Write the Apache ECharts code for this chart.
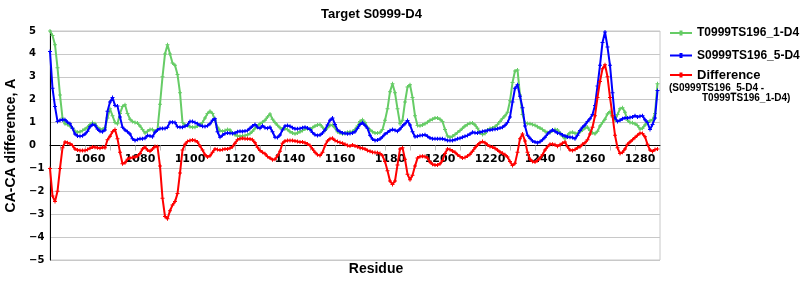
<!DOCTYPE html>
<html><head><meta charset="utf-8">
<script src="https://cdn.jsdelivr.net/npm/echarts@6/dist/echarts.min.js"></script>
<style>html,body{margin:0;padding:0;background:#fff}#c{width:800px;height:300px}</style>
</head><body><div id="c"></div>
<script>
// first residue number of the data arrays (one value per residue)
const residueStart = 1044;

// T0999TS196_1-D4 (green)
const greenT = [
 5.0,4.8,4.4,3.4,2.2,1.2,0.95,0.92,0.85,0.75,
 0.62,0.58,0.6,0.65,0.72,0.8,0.92,1.0,0.95,0.8,
 0.72,0.7,0.78,1.2,1.6,1.3,1.0,0.95,1.4,1.7,
 1.78,1.4,1.15,1.05,1.0,0.98,0.85,0.7,0.55,0.62,
 0.7,0.7,0.62,0.7,1.8,3.0,4.0,4.4,4.0,3.6,
 3.5,3.1,2.3,1.0,0.9,0.87,0.82,0.8,0.8,0.85,
 0.9,1.0,1.2,1.4,1.5,1.4,1.1,0.8,0.65,0.62,
 0.65,0.7,0.68,0.55,0.47,0.42,0.4,0.42,0.44,0.47,
 0.52,0.62,0.75,0.85,0.95,1.02,1.1,1.25,1.38,1.15,
 1.0,0.88,0.78,0.72,0.73,0.7,0.6,0.55,0.51,0.55,
 0.6,0.66,0.72,0.73,0.73,0.78,0.85,0.9,0.92,0.8,
 0.65,0.78,0.88,0.88,0.78,0.6,0.55,0.51,0.53,0.58,
 0.6,0.61,0.7,0.85,1.05,1.12,1.0,0.8,0.68,0.6,
 0.55,0.55,0.57,0.7,1.1,1.6,2.35,2.7,2.3,1.6,
 0.95,1.1,1.9,2.55,2.65,2.1,1.3,0.87,0.86,0.9,
 0.95,1.02,1.1,1.15,1.2,1.2,1.15,1.05,0.7,0.42,
 0.36,0.4,0.48,0.57,0.65,0.75,0.85,0.92,0.97,0.98,
 0.9,0.75,0.55,0.48,0.52,0.68,0.74,0.76,0.82,0.92,
 1.05,1.18,1.3,1.45,1.95,2.75,3.25,3.3,2.2,1.35,
 0.98,0.96,0.95,0.92,0.88,0.82,0.76,0.7,0.62,0.56,
 0.57,0.65,0.7,0.68,0.55,0.4,0.3,0.45,0.56,0.58,
 0.53,0.52,0.6,0.68,0.76,0.8,0.65,0.56,0.51,0.62,
 0.85,1.0,1.15,1.38,1.48,1.25,1.1,1.35,1.6,1.65,
 1.45,1.1,1.0,0.99,0.95,0.87,0.72,0.75,0.9,1.02,
 1.08,1.12,1.4,2.7
];

// S0999TS196_5-D4 (blue)
const blueS = [
 4.1,2.5,1.7,1.05,1.1,1.12,1.12,1.02,0.95,0.75,
 0.5,0.42,0.4,0.43,0.5,0.62,0.82,0.92,0.88,0.72,
 0.62,0.6,0.68,1.5,1.9,2.1,1.75,1.72,1.24,0.8,
 0.68,0.6,0.5,0.3,0.22,0.26,0.3,0.3,0.32,0.44,
 0.42,0.38,0.58,0.68,0.74,0.74,0.74,0.8,1.02,1.02,
 1.0,0.82,0.8,0.8,0.84,0.9,1.05,1.05,1.0,0.95,
 0.88,0.84,0.83,0.86,0.95,1.1,1.17,0.6,0.36,0.45,
 0.52,0.55,0.54,0.52,0.55,0.6,0.62,0.61,0.63,0.66,
 0.75,0.85,0.92,0.8,0.75,0.86,0.78,0.75,0.8,0.6,
 0.36,0.35,0.46,0.68,0.85,0.87,0.84,0.78,0.73,0.73,
 0.74,0.78,0.8,0.76,0.7,0.57,0.47,0.44,0.46,0.55,
 0.68,0.9,1.1,1.2,0.92,0.68,0.6,0.55,0.53,0.51,
 0.52,0.55,0.6,0.75,0.92,0.99,0.88,0.75,0.45,0.28,
 0.22,0.24,0.28,0.38,0.5,0.57,0.65,0.7,0.67,0.62,
 0.72,0.85,0.95,1.09,0.9,0.6,0.38,0.4,0.44,0.45,
 0.47,0.4,0.33,0.3,0.3,0.29,0.29,0.29,0.26,0.22,
 0.22,0.22,0.25,0.29,0.32,0.36,0.4,0.44,0.5,0.58,
 0.56,0.55,0.58,0.61,0.63,0.66,0.68,0.7,0.71,0.73,
 0.76,0.8,0.88,1.0,1.25,1.9,2.5,2.65,2.15,1.65,
 0.85,0.45,0.32,0.2,0.15,0.12,0.16,0.25,0.36,0.5,
 0.6,0.68,0.62,0.55,0.52,0.46,0.42,0.37,0.36,0.35,
 0.3,0.45,0.65,0.8,0.9,1.05,1.17,1.35,1.75,2.6,
 3.5,4.5,4.96,4.3,3.5,2.3,1.2,1.05,1.1,1.17,
 1.2,1.2,1.22,1.24,1.3,1.25,1.28,1.3,1.12,1.0,
 0.7,0.92,1.2,2.4
];

// Difference (S0999TS196_5-D4 - T0999TS196_1-D4) (red)
const diffSt = [
 -1.0,-2.2,-2.45,-2.0,-1.0,-0.1,0.15,0.12,0.08,0.0,
 -0.15,-0.2,-0.22,-0.22,-0.22,-0.18,-0.12,-0.07,-0.08,-0.1,
 -0.12,-0.08,-0.1,0.25,0.4,0.6,0.7,0.3,-0.3,-0.8,
 -0.75,-0.6,-0.55,-0.52,-0.5,-0.46,-0.35,-0.15,-0.07,-0.2,
 -0.25,-0.15,-0.04,-0.05,-0.9,-2.3,-3.1,-3.2,-2.85,-2.6,
 -2.45,-2.1,-1.2,-0.2,0.05,0.18,0.22,0.24,0.22,0.15,
 -0.02,-0.2,-0.4,-0.5,-0.45,-0.3,-0.15,-0.18,-0.2,-0.18,
 -0.15,-0.15,-0.12,-0.05,0.1,0.25,0.3,0.32,0.3,0.3,
 0.28,0.25,0.12,-0.08,-0.22,-0.3,-0.36,-0.48,-0.55,-0.62,
 -0.6,-0.45,-0.25,0.1,0.2,0.22,0.22,0.22,0.2,0.17,
 0.15,0.15,0.12,0.07,0.0,-0.15,-0.3,-0.4,-0.44,-0.3,
 0.0,0.2,0.3,0.32,0.22,0.17,0.13,0.1,0.05,0.0,
 -0.02,0.02,-0.02,-0.05,-0.1,-0.12,-0.15,-0.22,-0.25,-0.29,
 -0.31,-0.32,-0.35,-0.45,-0.7,-1.1,-1.55,-1.7,-1.55,-0.85,
 -0.15,-0.1,-0.6,-1.25,-1.5,-1.3,-0.9,-0.55,-0.48,-0.47,
 -0.48,-0.55,-0.72,-0.82,-0.85,-0.85,-0.8,-0.65,-0.35,-0.15,
 -0.18,-0.24,-0.3,-0.4,-0.48,-0.55,-0.52,-0.46,-0.38,-0.25,
 -0.1,0.02,0.12,0.17,0.12,0.03,-0.04,-0.07,-0.12,-0.2,
 -0.28,-0.34,-0.4,-0.5,-0.7,-0.87,-0.78,-0.3,0.3,0.5,
 0.2,-0.3,-0.6,-0.7,-0.72,-0.65,-0.55,-0.4,-0.2,-0.05,
 0.05,0.06,0.03,-0.03,0.03,0.1,0.15,-0.05,-0.2,-0.22,
 -0.18,-0.1,-0.05,0.05,0.12,0.25,0.5,0.8,1.3,2.1,
 2.8,3.35,3.53,3.0,2.1,1.3,0.45,-0.1,-0.35,-0.3,
 -0.15,0.05,0.15,0.25,0.35,0.45,0.54,0.52,0.38,0.05,
 -0.2,-0.26,-0.18,-0.15
];

// axis tick labels / tick marks
const xLabelValues = [1060,1080,1100,1120,1140,1160,1180,1200,1220,1240,1260,1280];
const xTickValues = [1048,1058,1068,1078,1088,1098,1108,1118,1128,1138,1148,1158,1168,1178,1188,1198,1208,1218,1228,1238,1248,1258,1268,1278];
const yMin = -5, yMax = 5, yStep = 1;

const names = ['T0999TS196_1-D4','S0999TS196_5-D4','Difference'];
const colors = ['#66cc66','#0000ff','#ff0000'];

function pairs(arr){ return arr.map((v,i)=>[residueStart+i, v]); }

const plus = 'path://M1.5,0H2.5V4H1.5Z M0,1.5H4V2.5H0Z';
const legendIcon = 'path://M0,6H22V8H0Z M9.5,4.5H12.5V9.5H9.5Z';
const bold = {fontFamily:'Liberation Sans, Arial, sans-serif', fontWeight:'bold', color:'#000'};
const tickFont = {fontFamily:'DejaVu Sans', fontWeight:'bold', color:'#000'};

// plot box (pixels) used to place the x axis line on the zero value
const gridTop = 31, gridBottom = 40, chartH = 300;
const plotH = chartH - gridTop - gridBottom;
const zeroOffset = -plotH * (0 - yMin) / (yMax - yMin);

const chart = echarts.init(document.getElementById('c'), null, {renderer:'canvas'});
function mkSeries(i, arr){
  return {name:names[i], type:'line', data:pairs(arr), symbol:plus, symbolSize:4,
    lineStyle:{color:colors[i], width:2}, itemStyle:{color:colors[i], borderWidth:0},
    emphasis:{disabled:true}, animation:false, z:2+i};
}
function mkLegend(i, top, fs, extra){
  return {data:[{name:names[i], icon:legendIcon}], left:670, top:top, padding:0,
    itemWidth:22, itemHeight:14, selectedMode:false,
    textStyle:Object.assign({fontSize:fs}, bold, extra||{})};
}
chart.setOption({
  animation:false,
  backgroundColor:'#fff',
  title:[
    {text:'Target S0999-D4', left:321, top:8, padding:0, textStyle:Object.assign({fontSize:13}, bold)},
    {text:'(S0999TS196_5-D4 -', left:669, top:83, padding:0, textStyle:Object.assign({fontSize:10, lineHeight:10}, bold)},
    {text:'T0999TS196_1-D4)', left:702, top:93, padding:0, textStyle:Object.assign({fontSize:10, lineHeight:10}, bold)}
  ],
  legend:[
    mkLegend(0, 27, 12),
    mkLegend(1, 49.5, 12),
    mkLegend(2, 68.5, 13, {padding:[0,0,10,0]})
  ],
  grid:{left:50, right:140, top:gridTop, bottom:gridBottom, show:true, borderColor:'#c8c8c8', borderWidth:1,
    containLabel:false, outerBoundsMode:'none'},
  xAxis:{type:'value', min:1044, max:1288, position:'bottom', offset:zeroOffset,
    axisLine:{onZero:false, lineStyle:{color:'#000', width:1}},
    axisTick:{show:true, customValues:xTickValues, length:5, lineStyle:{color:'#bbbbbb'}},
    axisLabel:{customValues:xLabelValues, margin:8, fontSize:11, ...tickFont, formatter:v=>String(v)},
    splitLine:{show:false},
    name:'Residue', nameLocation:'middle', nameGap:117,
    nameTextStyle:Object.assign({fontSize:14, padding:[0,0,0,42]}, bold)
  },
  yAxis:{type:'value', min:yMin, max:yMax, interval:yStep,
    axisLine:{show:true, onZero:false, lineStyle:{color:'#000', width:1}},
    axisTick:{show:false},
    axisLabel:{align:'left', margin:21, fontSize:10, ...tickFont,
      formatter:v=>String(v).replace('-','\u2212')},
    splitLine:{show:true, lineStyle:{color:'#c8c8c8', width:1}},
    name:'CA-CA difference, A', nameLocation:'middle', nameGap:24, nameRotate:90,
    nameTextStyle:Object.assign({fontSize:14}, bold)
  },
  series:[mkSeries(0, greenT), mkSeries(1, blueS), mkSeries(2, diffSt)]
});
</script></body></html>
